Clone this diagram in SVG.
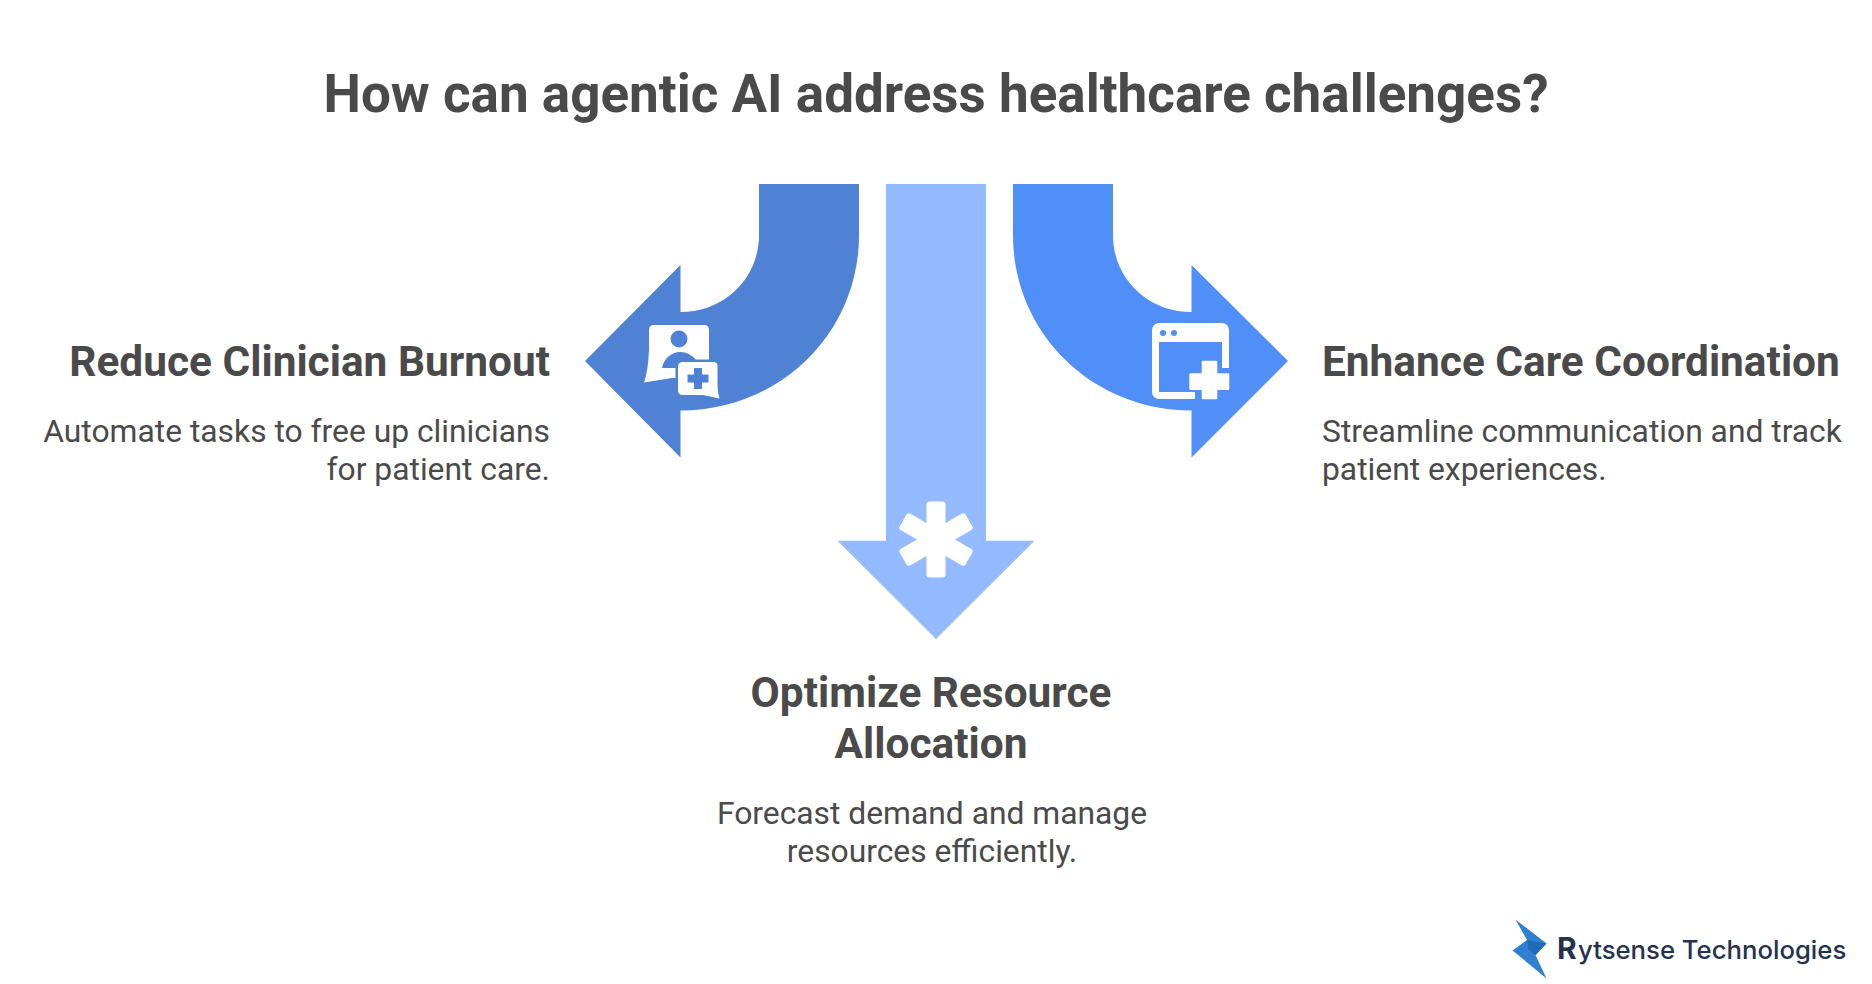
<svg xmlns="http://www.w3.org/2000/svg" width="1872" height="984" viewBox="0 0 1872 984">
<style>
text{font-family:Roboto,"Liberation Sans",sans-serif;fill:#4a4a4a}
.t{font-size:53px;font-weight:700;text-anchor:middle}
.h{font-size:42.400px;font-weight:700}
.d{font-size:31.800px;font-weight:400}
.e{text-anchor:end}.m{text-anchor:middle}
.w{fill:#fff}
.b1{fill:#4f81d4}.b3{fill:#4f8ff7}
.logo{font-family:Inter,"Noto Sans",sans-serif;fill:#24324e;font-weight:500}
</style>
<rect width="1872" height="984" fill="#fff"/>
<text class="t" x="936" y="112">How can agentic AI address healthcare challenges?</text>
<g id="connectors">
<path id="arrow-left" class="b1" d="M759 184H859V235C859 334 779 410.500 680.500 410.500V457.500L585 361L680.500 265V312C725 312 759 278 759 235Z"/>
<path id="arrow-center" fill="#94bbff" d="M886 184H986V540.700H1034.500L936 639L837.500 540.700H886Z"/>
<path id="arrow-right" class="b3" d="M1113 184H1013V235C1013 334 1093 410.500 1191.500 410.500V457.500L1288 361L1191.500 265V312C1147 312 1113 278 1113 235Z"/>
</g>
<g id="node-burnout">
<path class="w" d="M654 325H704Q709 325 709 330V378H672L644 382.500Q648 372 649 350V330Q649 325 654 325Z"/>
<circle class="b1" cx="679" cy="339" r="8.500"/>
<path class="b1" d="M662 368C664 358 672 352 680 352C688 352 695 357 697 362H680V368Z"/>
<path class="w" stroke="#4f81d4" stroke-width="5" paint-order="stroke" d="M683 362H713Q717.500 362 717.500 366V382Q717.500 392 719.500 398.500L703 395H683Q678 395 678 390.500V367Q678 362 683 362Z"/>
<path class="b1" d="M694 368H702V374.500H708.500V382.500H702V389H694V382.500H687.500V374.500H694Z"/>
<text class="h e" x="550" y="376">Reduce Clinician Burnout</text>
<text class="d e" x="550" y="442">Automate tasks to free up clinicians</text>
<text class="d e" x="550" y="480">for patient care.</text>
</g>
<g id="node-resource">
<g class="w"><rect x="926.500" y="501.500" width="19" height="76" rx="3"/><rect x="926.500" y="501.500" width="19" height="76" rx="3" transform="rotate(60 936 539.500)"/><rect x="926.500" y="501.500" width="19" height="76" rx="3" transform="rotate(120 936 539.500)"/></g>
<text class="h m" x="931" y="707">Optimize Resource</text>
<text class="h m" x="931" y="758">Allocation</text>
<text class="d m" x="932" y="824">Forecast demand and manage</text>
<text class="d m" x="932" y="862">resources efficiently.</text>
</g>
<g id="node-coordination">
<rect class="w" x="1152" y="323" width="77" height="76" rx="7"/>
<rect class="b3" x="1159" y="342" width="63" height="50"/>
<circle class="b3" cx="1163" cy="333" r="3"/><circle class="b3" cx="1174" cy="333" r="3"/>
<rect class="b3" x="1220" y="368" width="11" height="6"/>
<rect class="b3" x="1195" y="391" width="7" height="10"/>
<rect class="b3" x="1217" y="390" width="14" height="11"/>
<path class="w" d="M1203 360.700H1216Q1217.300 360.700 1217.300 362V373.300H1228Q1229.300 373.300 1229.300 374.600V388.700Q1229.300 390 1228 390H1217.300V398Q1217.300 399.300 1216 399.300H1203Q1201.700 399.300 1201.700 398V390H1190.600Q1189.300 390 1189.300 388.700V374.600Q1189.300 373.300 1190.600 373.300H1201.700V362Q1201.700 360.700 1203 360.700Z"/>
<text class="h" x="1322" y="376">Enhance Care Coordination</text>
<text class="d" x="1322" y="442">Streamline communication and track</text>
<text class="d" x="1322" y="480">patient experiences.</text>
</g>
<g id="logo">
<path fill="#2f80d0" d="M1515.500 919.500L1546.500 943.500L1535.500 955L1546.500 978.500L1512.500 950.500L1527 940Z"/>
<path fill="#1f6bb5" d="M1527 940L1546.500 943.500L1535.500 955L1528 949Z"/>
<text class="logo" x="1557" y="959" font-size="30" style="font-weight:700">R</text>
<text class="logo" x="1578" y="959" font-size="25.700">ytsense Technologies</text>
</g>
</svg>
